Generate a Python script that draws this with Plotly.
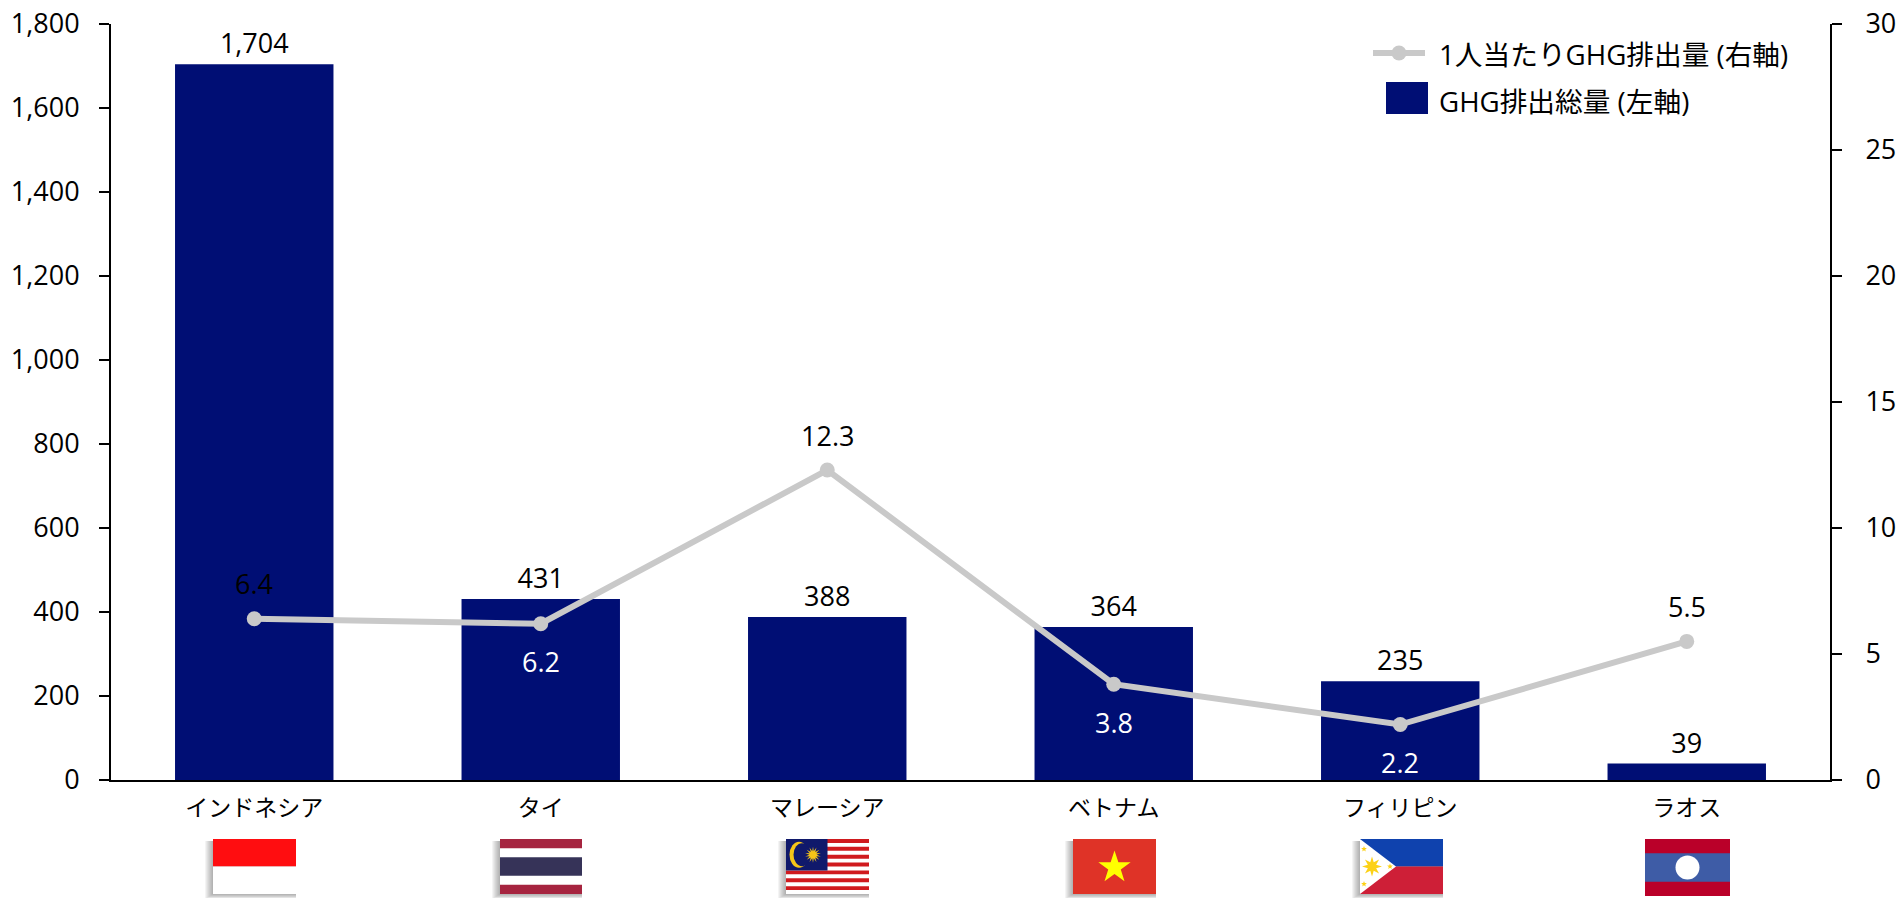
import math
import plotly.graph_objects as go

# Greenhouse gas emissions by country
countries = ["インドネシア", "タイ", "マレーシア", "ベトナム", "フィリピン", "ラオス"]
total_ghg = [1704, 431, 388, 364, 235, 39]
per_capita_ghg = [6.4, 6.2, 12.3, 3.8, 2.2, 5.5]
per_capita_label_side = [1, -1, 1, -1, -1, 1]  # 1 above the point, -1 below
per_capita_label_colors = ["#000000", "#FFFFFF", "#000000", "#FFFFFF", "#FFFFFF", "#000000"]
left_ticks = [0, 200, 400, 600, 800, 1000, 1200, 1400, 1600, 1800]
right_ticks = [0, 5, 10, 15, 20, 25, 30]
legend_line_name = "1人当たりGHG排出量 (右軸)"
legend_bar_name = "GHG排出総量 (左軸)"

W, H = 1896, 898
LEFT, RIGHT, TOP, BOTTOM = 111, 1830, 24, 780
FONT = "'Open Sans', 'Noto Sans CJK JP', sans-serif"
JP_FONT = "'Noto Sans CJK JP', sans-serif"
NAVY = "#000E74"
GREY = "#C9C9C9"
TEXT = "#000000"


def px(x):
    return (x - LEFT) / (RIGHT - LEFT)


def py(y):
    return (BOTTOM - y) / (BOTTOM - TOP)


shapes = []


def rect(x0, y0, x1, y1, color):
    shapes.append(dict(type="rect", xref="paper", yref="paper", layer="above",
                       x0=px(x0), x1=px(x1), y0=py(y0), y1=py(y1),
                       fillcolor=color, line_width=0))


def disc(cx, cy, rx, ry, color):
    shapes.append(dict(type="circle", xref="paper", yref="paper", layer="above",
                       x0=px(cx - rx), x1=px(cx + rx), y0=py(cy - ry), y1=py(cy + ry),
                       fillcolor=color, line_width=0))


def poly(points, color):
    d = "M" + "L".join(f"{px(x):.5f},{py(y):.5f}" for x, y in points) + "Z"
    shapes.append(dict(type="path", xref="paper", yref="paper", layer="above",
                       path=d, fillcolor=color, line_width=0))


def star(cx, cy, outer, inner, n, color):
    pts = []
    for k in range(2 * n):
        r = outer if k % 2 == 0 else inner
        a = -math.pi / 2 + k * math.pi / n
        pts.append((cx + r * math.cos(a), cy + r * math.sin(a)))
    poly(pts, color)


def shadow(x0, y0, x1, y1):
    for step in range(8, 0, -1):
        rect(x0 - step, y0 + 2, x1, y1 + step * 0.6, "rgba(60,60,60,0.055)")


def flag_indonesia(x0, y0, x1, y1):
    shadow(x0, y0, x1, y1)
    rect(x0, y0, x1, (y0 + y1) / 2, "#FF0D10")
    rect(x0, (y0 + y1) / 2, x1, y1, "#FFFFFF")


def flag_thailand(x0, y0, x1, y1):
    shadow(x0, y0, x1, y1)
    h = (y1 - y0) / 6
    rect(x0, y0, x1, y1, "#A6243F")
    rect(x0, y0 + h, x1, y1 - h, "#FFFFFF")
    rect(x0, y0 + 2 * h, x1, y1 - 2 * h, "#363358")


def flag_malaysia(x0, y0, x1, y1):
    shadow(x0, y0, x1, y1)
    rect(x0, y0, x1, y1, "#FFFFFF")
    h = (y1 - y0) / 14
    for k in range(0, 14, 2):
        rect(x0, y0 + k * h, x1, y0 + (k + 1) * h, "#D01A1E")
    cw = (x1 - x0) / 2
    rect(x0, y0, x0 + cw, y0 + 8 * h, "#10196B")
    cy = y0 + 4 * h
    disc(x0 + 13, cy, 9.5, 13, "#F5C518")
    disc(x0 + 16, cy, 8.5, 11.5, "#10196B")
    star(x0 + 27, cy, 8, 3.6, 14, "#F5C518")


def flag_vietnam(x0, y0, x1, y1):
    shadow(x0, y0, x1, y1)
    rect(x0, y0, x1, y1, "#DF3327")
    star((x0 + x1) / 2, (y0 + y1) / 2 + 1, 17, 6.6, 5, "#FFFF00")


def flag_philippines(x0, y0, x1, y1):
    shadow(x0, y0, x1, y1)
    mid = (y0 + y1) / 2
    rect(x0, y0, x1, mid, "#0F42AE")
    rect(x0, mid, x1, y1, "#CE1F37")
    poly([(x0, y0), (x0 + 36, mid), (x0, y1)], "#FFFFFF")
    star(x0 + 12, mid, 10, 4.5, 8, "#FCD116")
    for sx, sy in ((x0 + 4, y0 + 10), (x0 + 4, y1 - 10), (x0 + 30, mid)):
        star(sx, sy, 3, 1.3, 5, "#FCD116")


def flag_laos(x0, y0, x1, y1):
    rect(x0, y0, x1, y1, "#BA0029")
    h = (y1 - y0) / 4
    rect(x0, y0 + h, x1, y1 - h, "#3E5CA6")
    disc((x0 + x1) / 2, (y0 + y1) / 2, 12, 12, "#FFFFFF")


for draw, box in (
    (flag_indonesia, (213, 839, 296, 894)),
    (flag_thailand, (500, 839, 582, 894)),
    (flag_malaysia, (786, 839, 869, 894)),
    (flag_vietnam, (1073, 839, 1156, 894)),
    (flag_philippines, (1360, 839, 1443, 894)),
    (flag_laos, (1645, 839, 1730, 896)),
):
    draw(*box)

# Legend keys
shapes.append(dict(type="line", xref="paper", yref="paper", layer="above",
                   x0=px(1373), x1=px(1425), y0=py(53), y1=py(53),
                   line=dict(color=GREY, width=6)))
disc(1399, 53, 7.5, 7.5, GREY)
rect(1386, 82, 1428, 114, NAVY)

fig = go.Figure()
fig.add_trace(go.Bar(
    x=countries, y=total_ghg, name=legend_bar_name, yaxis="y",
    marker=dict(color=NAVY, line_width=0),
    text=[f"{v:,}" for v in total_ghg], textposition="outside",
    textfont=dict(family=FONT, size=27, color=TEXT), cliponaxis=False,
))
fig.add_trace(go.Scatter(
    x=countries, y=per_capita_ghg, name=legend_line_name, yaxis="y2",
    mode="lines+markers",
    line=dict(color=GREY, width=6),
    marker=dict(color=GREY, size=15),
))

annotations = [
    dict(x=c, y=v, xref="x", yref="y2", text=f"{v:.1f}", showarrow=False,
         yshift=35 if side > 0 else -38, font=dict(family=FONT, size=27, color=col))
    for c, v, side, col in zip(countries, per_capita_ghg, per_capita_label_side, per_capita_label_colors)
]
for text, y in ((legend_line_name, 54), (legend_bar_name, 101)):
    annotations.append(dict(x=px(1437), y=py(y), xref="paper", yref="paper", text=text,
                            showarrow=False, xanchor="left", yanchor="middle",
                            font=dict(family=FONT, size=27.7, color=TEXT)))

axis_line = dict(showline=True, linecolor="#000000", linewidth=2, showgrid=False,
                 zeroline=False, automargin=False)
fig.update_layout(
    width=W, height=H,
    margin=dict(l=LEFT, r=W - RIGHT, t=TOP, b=H - BOTTOM, pad=0),
    paper_bgcolor="#FFFFFF", plot_bgcolor="#FFFFFF",
    showlegend=False, bargap=0.447,
    shapes=shapes, annotations=annotations,
    xaxis=dict(**axis_line, ticks="outside", ticklen=6, tickcolor="rgba(0,0,0,0)",
               tickfont=dict(family=JP_FONT, size=23, color=TEXT)),
    yaxis=dict(**axis_line, range=[0, 1800], tickvals=left_ticks, tickformat=",d",
               ticks="outside", ticklen=10, tickwidth=2, tickcolor="#000000",
               ticklabelstandoff=14, tickfont=dict(family=FONT, size=27, color=TEXT)),
    yaxis2=dict(**axis_line, range=[0, 30], tickvals=right_ticks, overlaying="y", side="right",
                ticks="outside", ticklen=10, tickwidth=2, tickcolor="#000000",
                ticklabelstandoff=18, tickfont=dict(family=FONT, size=27, color=TEXT)),
)

fig.write_html("out.html")
